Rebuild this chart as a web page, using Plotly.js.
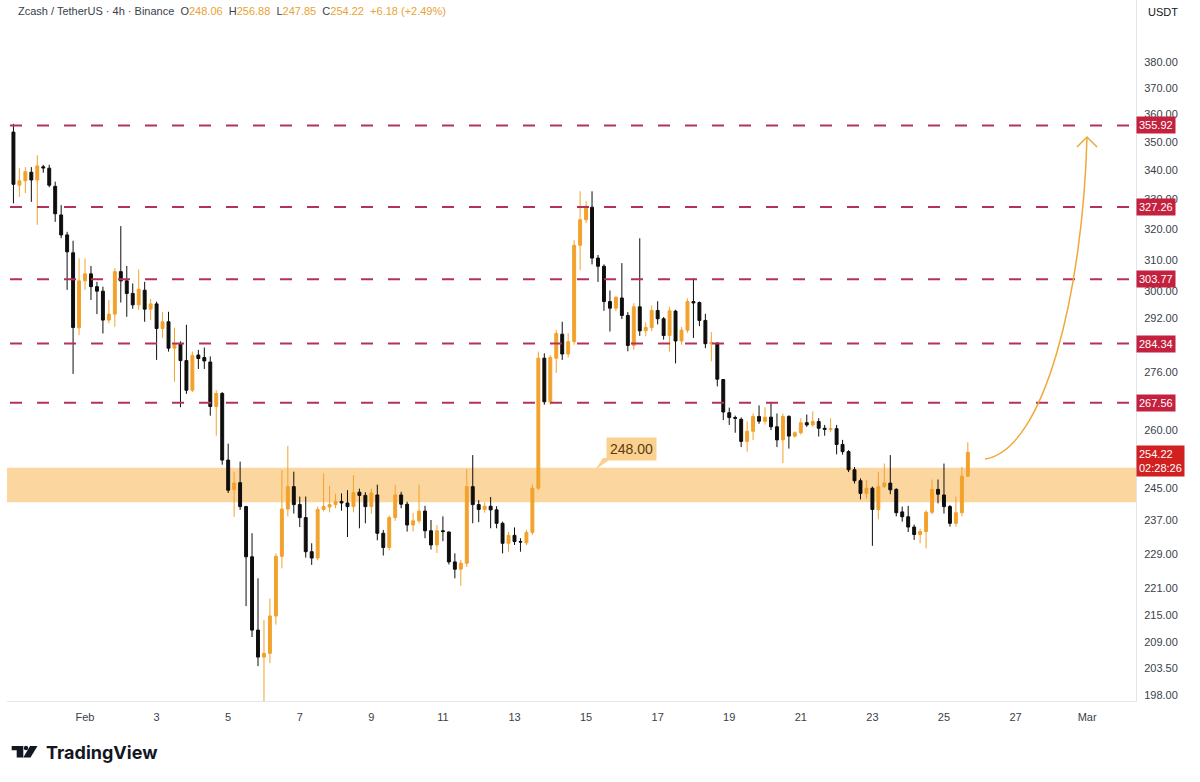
<!DOCTYPE html>
<html><head><meta charset="utf-8">
<script src="https://cdn.plot.ly/plotly-3.0.1.min.js"></script>
<style>html,body{margin:0;padding:0;background:#fff}#chart{width:1200px;height:782px}</style>
</head><body><div id="chart"></div>
<script>
// ---- data ----
const barStartUTC = Date.UTC(2026, 0, 30, 0, 0);
const barStepHours = 4;
const opens = [353.5,334.7,336.2,339.2,336.5,341.1,340.6,334.3,324.6,318.0,
312.2,289.0,303.3,305.5,301.5,300.1,291.3,293.1,306.2,303.3,
299.4,295.9,300.4,294.6,296.2,288.8,290.8,283.0,284.2,279.4,
271.0,281.0,280.3,279.0,266.5,270.1,252.2,244.7,246.4,240.4,
228.3,211.7,205.9,206.7,214.8,228.4,239.8,245.4,240.9,237.7,
229.5,228.0,239.7,240.3,240.9,241.7,241.3,240.4,244.0,243.2,
240.4,243.3,233.9,230.5,237.7,243.3,241.0,235.9,236.9,239.3,
234.5,231.1,234.5,234.2,227.1,225.4,226.8,245.4,240.9,239.7,
240.5,239.6,236.3,231.5,233.4,231.9,231.6,234.1,245.0,280.1,
267.8,280.1,287.1,281.3,284.9,314.6,323.0,327.2,310.5,307.9,
296.9,294.9,298.0,292.7,283.8,295.3,288.1,289.1,294.2,291.7,
286.7,294.0,285.1,288.3,296.9,296.6,291.2,284.3,284.5,274.0,
264.8,263.5,263.0,257.1,259.8,263.8,262.5,263.6,261.0,257.5,
263.8,258.5,259.4,262.1,261.5,262.4,260.6,260.3,260.5,256.3,
254.4,249.7,246.9,243.7,245.0,239.7,245.4,246.3,244.7,239.1,
237.9,235.4,233.6,234.3,239.0,244.7,243.3,240.4,236.3,238.9,
248.06];
const highs = [356.5,340.6,341.0,341.0,345.2,341.8,341.8,335.9,327.9,319.0,
316.1,310.4,310.4,308.0,303.0,301.5,297.4,307.3,320.9,308.0,
302.5,306.9,303.0,297.7,296.9,293.8,293.8,289.0,285.0,289.9,
282.0,282.5,283.2,280.6,271.0,270.5,256.5,249.2,251.8,240.6,
233.9,223.3,213.9,218.7,229.1,249.6,255.9,249.2,242.9,242.9,
231.5,240.4,248.8,245.6,243.6,243.7,244.5,248.3,244.9,244.0,
244.9,245.9,234.7,238.2,245.9,244.1,241.6,238.8,245.9,240.6,
237.1,235.9,238.0,234.3,229.1,227.6,249.9,253.5,242.0,241.4,
242.8,240.5,236.7,234.2,235.3,232.7,234.7,245.9,282.0,281.5,
281.0,288.4,290.8,287.4,316.3,332.6,329.2,332.6,311.5,308.5,
300.3,298.6,308.9,293.7,296.4,316.9,290.6,295.7,297.0,292.2,
295.3,294.4,289.2,297.9,304.2,296.9,293.2,287.7,284.6,274.1,
266.2,264.0,263.5,262.5,264.6,266.8,266.3,267.6,264.6,264.6,
264.1,259.8,263.3,264.3,265.2,263.3,261.5,263.3,261.5,257.5,
254.8,250.4,247.5,247.1,245.4,249.2,251.3,253.5,245.0,240.4,
240.6,236.0,235.0,239.5,247.2,247.2,251.3,240.8,242.9,250.4,
256.88];
const lows = [328.5,330.7,332.0,329.0,321.3,339.0,334.0,322.3,316.9,300.5,
275.6,286.8,300.5,297.4,293.1,287.3,290.3,289.3,296.6,292.3,
294.7,294.4,290.8,291.3,279.6,286.0,282.0,273.4,266.3,270.0,
270.5,277.0,277.0,264.0,258.6,251.0,243.8,237.9,239.6,217.0,
210.2,204.0,196.6,204.6,212.9,225.6,238.0,238.7,235.4,228.1,
226.4,227.5,239.2,239.0,240.0,239.4,233.0,239.0,235.1,236.3,
238.6,232.2,228.6,229.8,236.9,240.0,234.3,234.3,236.3,232.7,
230.0,229.2,232.0,226.5,223.3,221.6,225.9,236.3,236.6,238.9,
235.1,235.1,229.1,229.5,231.1,229.5,231.0,233.5,244.5,267.0,
267.0,275.9,279.6,280.3,284.0,306.7,321.9,308.5,303.0,294.1,
287.9,294.0,291.6,282.1,282.5,286.6,286.5,288.0,290.0,285.5,
282.0,278.6,284.0,287.5,286.0,289.5,283.0,279.2,272.1,262.8,
261.5,259.4,255.6,254.4,257.5,261.8,261.6,260.1,255.6,251.4,
255.2,258.1,258.9,261.0,261.0,258.4,258.6,259.6,253.7,253.6,
249.1,246.2,242.2,242.4,230.9,237.3,245.0,243.5,238.0,236.7,
234.2,232.3,231.5,230.3,238.5,241.2,238.7,235.5,235.5,238.0,
247.85];
const closes = [335.0,336.2,339.4,336.5,341.4,340.7,334.7,325.0,318.0,312.5,
289.1,303.3,305.5,301.5,300.1,291.3,293.1,306.2,303.3,299.4,
295.9,300.7,294.6,296.2,288.8,290.8,283.0,284.2,279.4,271.0,
280.9,280.0,279.3,266.5,270.1,252.2,244.5,246.3,240.4,228.3,
211.7,205.9,206.7,214.8,228.4,239.8,245.4,240.9,237.7,229.5,
228.0,239.7,240.4,240.9,241.7,241.3,240.4,243.9,243.2,240.4,
243.8,233.9,230.5,237.7,243.3,241.0,235.9,236.9,239.3,234.5,
231.1,234.5,234.3,227.1,225.4,226.8,245.4,240.9,239.7,240.5,
239.6,236.3,231.5,233.4,231.9,231.8,234.1,245.0,280.1,267.8,
280.3,287.3,281.3,284.9,314.6,323.0,327.5,310.5,307.9,296.9,
294.9,298.2,292.7,283.8,295.3,288.1,289.1,294.2,291.7,286.7,
294.1,285.1,288.3,296.9,296.5,291.2,284.3,284.6,274.1,265.0,
263.5,263.3,257.1,259.8,263.8,262.5,263.6,261.0,257.5,263.8,
258.5,259.4,262.1,261.5,262.4,260.6,260.3,260.5,256.3,254.4,
249.7,246.9,243.7,245.0,239.7,245.4,246.3,244.6,238.9,237.9,
235.4,233.6,234.3,239.0,244.7,243.5,240.4,236.3,238.9,248.06,
254.22];

const levelPrices = [355.92, 327.26, 303.77, 284.34, 267.56];
const levelLabels = ['355.92', '327.26', '303.77', '284.34', '267.56'];
const zoneBounds = [241.5, 250.2];
const zoneLabel = '248.00';
const lastPriceLabel = ['254.22', '02:28:26'];
const lastPrice = 254.22;

const priceTicks = [198, 203.5, 209, 215, 221, 229, 237, 245, 260, 276, 292, 300, 310, 320, 330, 340, 350, 360, 370, 380];
const priceTickText = ['198.00','203.50','209.00','215.00','221.00','229.00','237.00','245.00','260.00','276.00','292.00','300.00','310.00','320.00','330.00','340.00','350.00','360.00','370.00','380.00'];
const dateTicks = ['2026-02-01','2026-02-03','2026-02-05','2026-02-07','2026-02-09','2026-02-11','2026-02-13','2026-02-15','2026-02-17','2026-02-19','2026-02-21','2026-02-23','2026-02-25','2026-02-27','2026-03-01'];
const dateTickText = ['Feb','3','5','7','9','11','13','15','17','19','21','23','25','27','Mar'];

const symbolTitle = 'Zcash / TetherUS \u00b7 4h \u00b7 Binance';
const ohlcKeys = ['O', 'H', 'L', 'C'];
const ohlcValues = ['248.06', '256.88', '247.85', '254.22'];
const changeText = '+6.18 (+2.49%)';
const currency = 'USDT';

// ---- helpers (layout geometry) ----
const W = 1200, H = 782;
const L = 7, R = 1136, T = 0, B = 701;
const pw = R - L, ph = B - T;
const feb1 = Date.UTC(2026, 1, 1);
const pxPerDay = 35.79, feb1Px = 85;
function fmt(ms) { return new Date(ms).toISOString().slice(0, 16).replace('T', ' '); }
function pxToDate(p) { return fmt(feb1 + (p - feb1Px) / pxPerDay * 86400000); }
function ppx(p) { return (p - L) / pw; }
function ppy(p) { return 1 - (p - T) / ph; }

const times = opens.map((_, i) => fmt(barStartUTC + i * barStepHours * 3600000));

const UP = '#f2a22c', DOWN = '#0e0e0e', LEVEL = '#b2325c', ZONE = '#fcd69f';
const font = 'Liberation Sans, Arial, sans-serif';

const traces = [];
// level lines
levelPrices.forEach(v => {
  traces.push({type: 'scatter', mode: 'lines', x: [pxToDate(10), pxToDate(1130)], y: [v, v],
    line: {color: LEVEL, width: 2, dash: '12px,15px'}, hoverinfo: 'skip', showlegend: false});
});
// candles
traces.push({type: 'candlestick', x: times, open: opens, high: highs, low: lows, close: closes,
  increasing: {line: {color: UP, width: 1}, fillcolor: UP},
  decreasing: {line: {color: DOWN, width: 1}, fillcolor: DOWN},
  whiskerwidth: 0, hoverinfo: 'skip', showlegend: false});

const ann = [];
// header
let hdr = symbolTitle + '\u00a0\u00a0';
ohlcKeys.forEach((k, i) => { hdr += k + '<span style="color:#e9a234">' + ohlcValues[i] + '</span>\u00a0\u00a0'; });
hdr += '<span style="color:#e9a234">' + changeText + '</span>';
ann.push({xref: 'paper', yref: 'paper', x: ppx(16), y: ppy(11), xanchor: 'left', yanchor: 'middle',
  text: hdr, showarrow: false, font: {family: font, size: 11, color: '#3a3e4a'}});
ann.push({xref: 'paper', yref: 'paper', x: ppx(1146), y: ppy(12), xanchor: 'left', yanchor: 'middle',
  text: currency, showarrow: false, font: {family: font, size: 11, color: '#131722'}});
// level labels
levelPrices.forEach((v, i) => {
  ann.push({xref: 'paper', yref: 'y', x: 1, y: Math.log10(v), xanchor: 'left', yanchor: 'middle',
    xshift: 0, text: levelLabels[i], showarrow: false, bgcolor: '#c4213f', borderpad: 2,
    font: {family: font, size: 11, color: '#ffffff'}});
});
// last price label
ann.push({xref: 'paper', yref: 'y', x: 1, y: Math.log10(lastPrice), xanchor: 'left', yanchor: 'top',
  yshift: 7, text: lastPriceLabel.join('<br>'), showarrow: false, bgcolor: '#d21f1f', borderpad: 2,
  align: 'left', font: {family: font, size: 11, color: '#ffffff'}});
// zone callout
ann.push({xref: 'paper', yref: 'paper', x: ppx(631), y: ppy(448.5), xanchor: 'center', yanchor: 'middle',
  text: zoneLabel, showarrow: false, bgcolor: '#fbd190', borderpad: 3,
  font: {family: font, size: 14, color: '#5a3b12'}});
// TradingView brand text
ann.push({xref: 'paper', yref: 'paper', x: ppx(44), y: ppy(752), xanchor: 'left', yanchor: 'middle',
  text: '<b>TradingView</b>', showarrow: false, font: {family: 'Inter, Roboto, sans-serif', size: 18, color: '#131722'}});

function P(x, y) { return ppx(x).toFixed(5) + ',' + ppy(y).toFixed(5); }
const shapes = [
  // support zone (below the candles)
  {type: 'rect', xref: 'paper', yref: 'y', layer: 'below', x0: 0, x1: 1,
   y0: zoneBounds[0], y1: zoneBounds[1], fillcolor: ZONE, line: {width: 0}},
  // curved target arrow
  {type: 'path', xref: 'paper', yref: 'paper', layer: 'above',
   path: 'M' + P(985, 459) + ' C' + P(1045, 450) + ' ' + P(1083, 290) + ' ' + P(1087, 137),
   line: {color: '#f0a83a', width: 1.5}},
  {type: 'path', xref: 'paper', yref: 'paper', layer: 'above',
   path: 'M' + P(1077, 147) + ' L' + P(1087, 137) + ' L' + P(1097, 147),
   line: {color: '#f0a83a', width: 1.5}},
  // callout tail
  {type: 'path', xref: 'paper', yref: 'paper', layer: 'above',
   path: 'M' + P(603, 458) + ' L' + P(612, 458) + ' L' + P(595, 470) + ' Z',
   fillcolor: '#fbd190', line: {width: 0}},
  // TradingView logo
  {type: 'path', xref: 'paper', yref: 'paper', layer: 'above',
   path: 'M' + P(11.7, 746) + ' L' + P(23.3, 746) + ' L' + P(23.3, 757.5) + ' L' + P(16.7, 757.5) + ' L' + P(16.7, 750.3) + ' L' + P(11.7, 750.3) + ' Z',
   fillcolor: '#131722', line: {width: 0}},
  {type: 'circle', xref: 'paper', yref: 'paper', layer: 'above',
   x0: ppx(23.8), x1: ppx(28.2), y0: ppy(750.2), y1: ppy(745.8), fillcolor: '#131722', line: {width: 0}},
  {type: 'path', xref: 'paper', yref: 'paper', layer: 'above',
   path: 'M' + P(30, 746) + ' L' + P(37.5, 746) + ' L' + P(30.5, 757.5) + ' L' + P(23.3, 757.5) + ' Z',
   fillcolor: '#131722', line: {width: 0}}
];

const layout = {
  width: W, height: H,
  margin: {l: L, r: W - R, t: T, b: H - B, pad: 0},
  paper_bgcolor: '#ffffff', plot_bgcolor: '#ffffff',
  showlegend: false, hovermode: false, dragmode: false,
  xaxis: {type: 'date', range: [pxToDate(L), pxToDate(R)], rangeslider: {visible: false},
    tickmode: 'array', tickvals: dateTicks, ticktext: dateTickText, ticks: '', showgrid: false,
    zeroline: false, showline: true, linecolor: '#e3e5ea', linewidth: 1,
    tickfont: {family: font, size: 11, color: '#3a3e4a'}, ticklabelstandoff: 6},
  yaxis: {type: 'log', side: 'right', range: [Math.log10(196.8), Math.log10(405)],
    tickmode: 'array', tickvals: priceTicks, ticktext: priceTickText, ticks: '', showgrid: false,
    zeroline: false, showline: true, linecolor: '#e3e5ea', linewidth: 1,
    tickfont: {family: font, size: 11, color: '#3a3e4a'}, ticklabelstandoff: 5},
  annotations: ann, shapes: shapes
};

Plotly.newPlot('chart', traces, layout, {staticPlot: true, displayModeBar: false});
</script></body></html>
